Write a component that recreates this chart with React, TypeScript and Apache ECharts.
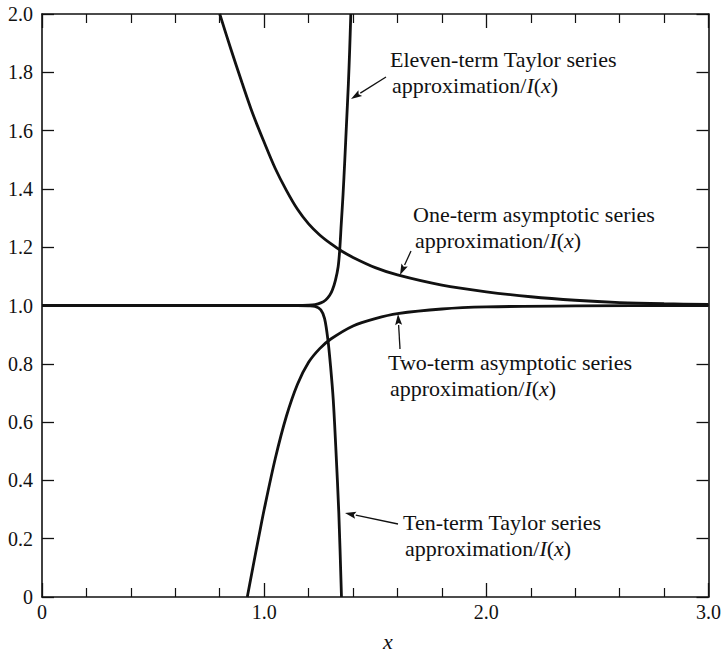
import React, { useEffect, useRef } from "react";
import * as echarts from "echarts";

// labels of the axis ticks
const xTickLabels = ["0", "1.0", "2.0", "3.0"];
const yTickLabels = ["0", "0.2", "0.4", "0.6", "0.8", "1.0", "1.2", "1.4", "1.6", "1.8", "2.0"];

// Eleven-term Taylor series approximation / I(x)
const elevenTerm: [number, number][] = [
  [0, 1.0], [0.5, 1.0], [1.0, 1.0], [1.15, 1.0], [1.2, 1.001], [1.229, 1.003],
  [1.255, 1.009], [1.277, 1.019], [1.295, 1.035], [1.307, 1.053], [1.321, 1.087],
  [1.333, 1.133], [1.34, 1.19], [1.347, 1.28], [1.355, 1.38], [1.363, 1.5],
  [1.371, 1.63], [1.379, 1.76], [1.385, 1.88], [1.39, 2.0],
];

// Ten-term Taylor series approximation / I(x)
const tenTerm: [number, number][] = [
  [0, 1.0], [0.5, 1.0], [1.0, 1.0], [1.15, 1.0], [1.2, 0.999], [1.229, 0.997],
  [1.255, 0.985], [1.272, 0.955], [1.287, 0.882], [1.299, 0.79], [1.311, 0.676],
  [1.323, 0.504], [1.336, 0.288], [1.348, 0.0],
];

// One-term asymptotic series approximation / I(x)
const oneTerm: [number, number][] = [
  [0.8, 2.0], [0.85, 1.88], [0.9, 1.765], [0.95, 1.655], [1.0, 1.56], [1.05, 1.47],
  [1.1, 1.395], [1.15, 1.33], [1.2, 1.28], [1.25, 1.242], [1.3, 1.212], [1.35, 1.186],
  [1.4, 1.165], [1.5, 1.13], [1.6, 1.105], [1.8, 1.07], [2.0, 1.047], [2.2, 1.03],
  [2.4, 1.018], [2.6, 1.01], [2.8, 1.006], [3.0, 1.004],
];

// Two-term asymptotic series approximation / I(x)
const twoTerm: [number, number][] = [
  [0.924, 0.0], [0.95, 0.105], [0.978, 0.215], [1.0, 0.3], [1.05, 0.475], [1.1, 0.62],
  [1.15, 0.73], [1.2, 0.805], [1.25, 0.852], [1.3, 0.885], [1.4, 0.93], [1.5, 0.955],
  [1.6, 0.972], [1.8, 0.988], [2.0, 0.995], [2.4, 0.999], [3.0, 1.0],
];

const FONT = "'Liberation Serif', 'Times New Roman', serif";
const INK = "#111";

function fmt(v: number): string {
  return v === 0 ? "0" : v.toFixed(1);
}

function arrow(x1: number, y1: number, x2: number, y2: number) {
  const dx = x2 - x1;
  const dy = y2 - y1;
  const len = Math.sqrt(dx * dx + dy * dy);
  const ux = dx / len;
  const uy = dy / len;
  const hl = 11;
  const hw = 3.5;
  const bx = x2 - ux * hl;
  const by = y2 - uy * hl;
  return [
    {
      type: "line",
      shape: { x1, y1, x2: bx, y2: by },
      style: { stroke: INK, lineWidth: 1.3 },
      silent: true,
    },
    {
      type: "polygon",
      shape: {
        points: [
          [x2, y2],
          [bx - uy * hw, by + ux * hw],
          [bx + ux * 2, by + uy * 2],
          [bx + uy * hw, by - ux * hw],
        ],
      },
      style: { fill: INK },
      silent: true,
    },
  ];
}

const rich = {
  n: { fontFamily: FONT, fontSize: 22, fill: INK },
  i: { fontFamily: FONT, fontSize: 22, fontStyle: "italic", fill: INK },
};

function label(x: number, y: number, first: string) {
  return [
    {
      type: "text",
      silent: true,
      style: {
        x,
        y,
        text: first,
        fontFamily: FONT,
        fontSize: 22,
        fill: INK,
        verticalAlign: "middle",
      },
    },
    {
      type: "text",
      silent: true,
      style: {
        x: x + 2,
        y: y + 26,
        text: "{n|approximation/}{i|I}{n|(}{i|x}{n|)}",
        rich,
        verticalAlign: "middle",
      },
    },
  ];
}

function makeX(position: "bottom" | "top", showLabel: boolean) {
  return {
    type: "value",
    position,
    min: 0,
    max: 3,
    interval: 1,
    axisLine: { show: true, onZero: false, lineStyle: { color: INK, width: 1.6 } },
    axisTick: { show: true, inside: true, length: 14, lineStyle: { color: INK, width: 1.3 } },
    minorTick: { show: true, splitNumber: 5, length: 9, lineStyle: { color: INK, width: 1.2 } },
    splitLine: { show: false },
    minorSplitLine: { show: false },
    axisLabel: {
      show: showLabel,
      formatter: (v: number) => xTickLabels[Math.round(v)] ?? fmt(v),
      fontFamily: FONT,
      fontSize: 20,
      color: INK,
      margin: 5,
    },
  };
}

function makeY(position: "left" | "right", showLabel: boolean) {
  return {
    type: "value",
    position,
    min: 0,
    max: 2,
    interval: 0.2,
    axisLine: { show: true, onZero: false, lineStyle: { color: INK, width: 1.6 } },
    axisTick: { show: true, inside: true, length: 12, lineStyle: { color: INK, width: 1.3 } },
    splitLine: { show: false },
    axisLabel: {
      show: showLabel,
      formatter: (v: number) => yTickLabels[Math.round(v * 5)] ?? fmt(v),
      fontFamily: FONT,
      fontSize: 20,
      color: INK,
      margin: 9,
    },
  };
}

function curve(name: string, data: [number, number][]) {
  return {
    name,
    type: "line",
    data,
    xAxisIndex: 0,
    yAxisIndex: 0,
    showSymbol: false,
    symbol: "none",
    smooth: 0.3,
    clip: true,
    lineStyle: { color: INK, width: 2.8 },
  };
}

export default function App() {
  const ref = useRef<HTMLDivElement>(null);
  useEffect(() => {
    if (!ref.current) return;
    const chart = echarts.init(ref.current, null, { renderer: "svg" });
    chart.setOption({
      animation: false,
      backgroundColor: "#fff",
      textStyle: { fontFamily: FONT },
      grid: { left: 42, right: 11, top: 14, bottom: 59, containLabel: false },
      xAxis: [makeX("bottom", true), makeX("top", false)],
      yAxis: [makeY("left", true), makeY("right", false)],
      series: [
        curve("Eleven-term Taylor series", elevenTerm),
        curve("Ten-term Taylor series", tenTerm),
        curve("One-term asymptotic series", oneTerm),
        curve("Two-term asymptotic series", twoTerm),
      ],
      graphic: [
        ...label(390, 59, "Eleven-term Taylor series"),
        ...arrow(386, 77, 351, 99),
        ...label(413, 214, "One-term asymptotic series"),
        ...arrow(411, 251, 400, 275),
        ...label(388, 362, "Two-term asymptotic series"),
        ...arrow(400, 349, 398, 314),
        ...label(403, 522, "Ten-term Taylor series"),
        ...arrow(398, 524, 345, 513),
        {
          type: "text",
          silent: true,
          style: {
            x: 388,
            y: 641,
            text: "x",
            fontFamily: FONT,
            fontSize: 22,
            fontStyle: "italic",
            fill: INK,
            align: "center",
            verticalAlign: "middle",
          },
        },
      ],
    });
    return () => chart.dispose();
  }, []);
  return (
    <div
      ref={ref}
      style={{ position: "fixed", left: 0, top: 0, width: 724, height: 656, background: "#fff" }}
    />
  );
}
